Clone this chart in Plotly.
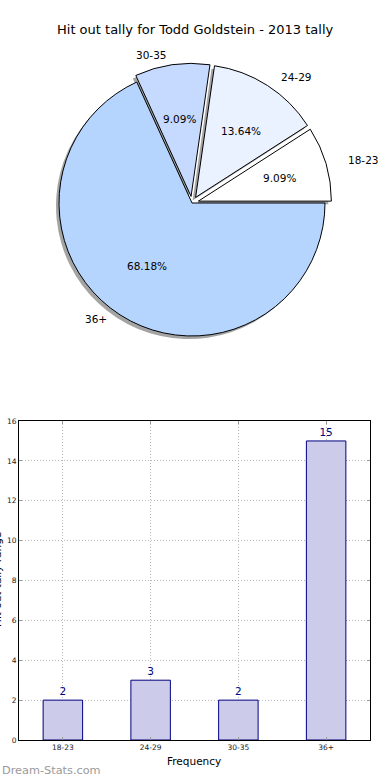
import math
import plotly.graph_objects as go

# ---------------- data ----------------
categories = ["18-23", "24-29", "30-35", "36+"]
tally = [2, 3, 2, 15]
explode = [0.05, 0.05, 0.05, 0.0]
slice_colors = ["#ffffff", "#eaf1ff", "#c6d9ff", "#b5d5ff"]
y_ticks = [0, 2, 4, 6, 8, 10, 12, 14, 16]
title_text = "Hit out tally for Todd Goldstein - 2013 tally"

W, H = 390, 780
FONT = "DejaVu Sans"

def px(x):
    return x / W

def py(y):
    return 1 - y / H

total = sum(tally)
# plotly places the first counterclockwise slice ending at `rotation`; shift so it starts at 3 o'clock
pie_rotation = 90 - 360.0 * tally[0] / total

# pie geometry (pixels)
CX, CY = 192, 203
R = 133
half = R * (1 + max(explode))
SH = 3  # shadow offset

fig = go.Figure()

# shadow pie
fig.add_trace(go.Pie(
    values=tally, labels=categories, sort=False, direction="counterclockwise",
    rotation=pie_rotation, pull=explode, textinfo="none", hoverinfo="skip",
    marker=dict(colors=["rgba(90,90,90,0.55)"] * len(tally), line=dict(width=0)),
    domain=dict(x=[px(CX - SH - half), px(CX - SH + half)],
                y=[py(CY + SH + half), py(CY + SH - half)]),
    showlegend=False,
))
# main pie
fig.add_trace(go.Pie(
    values=tally, labels=categories, sort=False, direction="counterclockwise",
    rotation=pie_rotation, pull=explode, textinfo="none",
    marker=dict(colors=slice_colors, line=dict(color="#000000", width=1)),
    domain=dict(x=[px(CX - half), px(CX + half)],
                y=[py(CY + half), py(CY - half)]),
    showlegend=False,
))

# bar chart
fig.add_trace(go.Bar(
    x=categories, y=tally, width=0.45,
    marker=dict(color="#ccccea", line=dict(color="#000080", width=1)),
    text=[str(v) for v in tally], textposition="outside",
    textfont=dict(family=FONT, size=10.5, color="#000080"),
    cliponaxis=False, xaxis="x", yaxis="y", showlegend=False,
))

annotations = []
# title
annotations.append(dict(x=px(195), y=py(30), xref="paper", yref="paper",
                        text=title_text, showarrow=False, xanchor="center", yanchor="middle",
                        font=dict(family=FONT, size=13, color="#000")))

# pie labels & percentages (matplotlib-like placement)
TCX, TCY = 192, 201
RX, RY = 140, 128
start = 0.0
for lab, v, ex in zip(categories, tally, explode):
    sweep = 360.0 * v / total
    mid = math.radians(start + sweep / 2)
    start += sweep
    c, s = math.cos(mid), math.sin(mid)
    ox, oy = ex * RX * c, ex * RY * s
    lx, ly = TCX + ox + 1.1 * RX * c, TCY - oy - 1.1 * RY * s
    annotations.append(dict(x=px(lx), y=py(ly), xref="paper", yref="paper", text=lab,
                            showarrow=False, xanchor="left" if c > 0 else "right",
                            yanchor="middle", font=dict(family=FONT, size=10.5, color="#000")))
    tx, ty = TCX + ox + 0.6 * RX * c, TCY - oy - 0.6 * RY * s
    annotations.append(dict(x=px(tx), y=py(ty), xref="paper", yref="paper",
                            text="%.2f%%" % (100.0 * v / total),
                            showarrow=False, xanchor="center", yanchor="middle",
                            font=dict(family=FONT, size=10.5, color="#000")))

# x-axis title
annotations.append(dict(x=px(194), y=py(761), xref="paper", yref="paper", text="Frequency",
                        showarrow=False, xanchor="center", yanchor="middle",
                        font=dict(family=FONT, size=10.5, color="#000")))
# y-axis title (mostly cut off at the left edge, as in the reference)
annotations.append(dict(x=px(-3), y=py(580), xref="paper", yref="paper", text="Hit out tally range",
                        showarrow=False, xanchor="center", yanchor="middle", textangle=-90,
                        font=dict(family=FONT, size=10.5, color="#000")))
# watermark
annotations.append(dict(x=0, y=py(770), xref="paper", yref="paper", text="Dream-Stats.com",
                        showarrow=False, xanchor="left", yanchor="middle",
                        font=dict(family=FONT, size=11.3, color="#9a9a9a")))

axis_common = dict(showline=True, linecolor="#000", linewidth=1, mirror="ticks",
                   ticks="inside", ticklen=3, tickcolor="#999",
                   showgrid=True, gridcolor="#b8b8b8", griddash="1px,2px", gridwidth=1,
                   zeroline=False, automargin=False,
                   tickfont=dict(family=FONT, size=7.5, color="#222"))

fig.update_layout(
    width=W, height=H,
    margin=dict(l=0, r=0, t=0, b=0, pad=0, autoexpand=False),
    paper_bgcolor="#ffffff", plot_bgcolor="#ffffff",
    xaxis=dict(domain=[px(19), px(370)], range=[-0.5, 3.5], type="category",
               anchor="y", **axis_common),
    yaxis=dict(domain=[py(740), py(421)], range=[0, 16], tickvals=y_ticks,
               anchor="x", **axis_common),
    annotations=annotations,
)

page_fix = (
    "var s=document.createElement('style');"
    "s.textContent='html,body{margin:0;padding:0;overflow:hidden;height:780px;}';"
    "document.head.appendChild(s);"
)

fig.write_html("out.html", config={"displayModeBar": False}, post_script=page_fix)
